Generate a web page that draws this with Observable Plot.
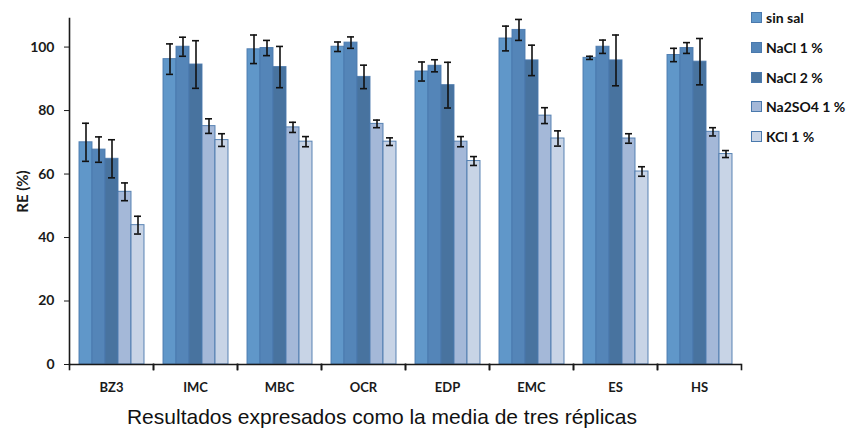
<!DOCTYPE html>
<html><head><meta charset="utf-8">
<script src="https://cdn.jsdelivr.net/npm/d3@7"></script>
<script src="https://cdn.jsdelivr.net/npm/@observablehq/plot@0.6"></script>
<style>
body{margin:0;background:#fff}
#wrap{position:relative;width:846px;height:434px;overflow:hidden}
#chart svg text{font-weight:bold}
#chart svg g[aria-label="y-axis label"] text{font-size:15px;font-weight:bold}
#legend{position:absolute;left:751px;top:3px;font-family:Lato,"Open Sans",sans-serif;font-weight:bold;font-size:14px;color:#111}
.item{display:flex;align-items:center;height:29.7px}
.sw{width:9px;height:9px;border:1px solid #4a79ad;margin-right:4px}
#caption{position:absolute;left:0;width:764px;top:405px;text-align:center;font-family:"Liberation Sans",Arial,sans-serif;font-size:21px;color:#111}
</style>
</head><body>
<div id="wrap"><div id="chart"></div><div id="legend"></div><div id="caption">Resultados expresados como la media de tres réplicas</div></div>
<script>
const categories = ["BZ3","IMC","MBC","OCR","EDP","EMC","ES","HS"];
const series = ["sin sal","NaCl 1 %","NaCl 2 %","Na2SO4 1 %","KCl 1 %"];
const colors = ["#6097c9","#5485b8","#48739f","#a4b8d8","#c8d4e6"];
const yTicks = [0,20,40,60,80,100];
const sinSal    = [70.0, 96.2, 99.3, 100.1, 92.3, 102.7, 96.6, 97.5];
const sinSalErr = [6.0, 4.8, 4.5, 1.5, 3.0, 3.9, 0.5, 2.1];
const nacl1     = [67.7, 100.1, 99.7, 101.4, 94.1, 105.4, 100.1, 99.7];
const nacl1Err  = [4.0, 3.0, 2.4, 1.8, 1.9, 3.3, 2.1, 1.7];
const nacl2     = [64.8, 94.5, 93.7, 90.6, 88.0, 95.8, 95.8, 95.4];
const nacl2Err  = [6.0, 7.5, 6.5, 3.7, 7.2, 4.8, 8.0, 7.3];
const na2so4    = [54.4, 75.1, 74.7, 75.8, 70.2, 78.4, 71.2, 73.3];
const na2so4Err = [2.8, 2.3, 1.6, 1.2, 1.6, 2.5, 1.5, 1.3];
const kcl       = [43.9, 70.7, 70.2, 70.2, 64.1, 71.2, 60.8, 66.3];
const kclErr    = [2.8, 2.0, 1.6, 1.2, 1.4, 2.4, 1.5, 1.1];

const values = [sinSal, nacl1, nacl2, na2so4, kcl];
const errors = [sinSalErr, nacl1Err, nacl2Err, na2so4Err, kclErr];
const rows = [];
categories.forEach((c, i) => series.forEach((s, j) => {
  const v = values[j][i], e = errors[j][i];
  rows.push({cat: c, series: s, value: v, lo: v - e, hi: v + e});
}));

const font = "Lato, 'Open Sans', sans-serif";
const plot = Plot.plot({
  width: 846, height: 400,
  marginLeft: 67, marginRight: 103, marginTop: 18, marginBottom: 36,
  style: {fontFamily: font, color: "#1a1a1a", background: "#fff"},
  fx: {domain: categories, paddingInner: 0, paddingOuter: 0, label: null},
  x: {domain: series, axis: null, paddingInner: 0, paddingOuter: 0.7},
  y: {domain: [0, 109]},
  color: {domain: series, range: colors},
  marks: [
    Plot.barY(rows, {fx: "cat", x: "series", y: "value", fill: "series", stroke: "#4a79ad", strokeWidth: 1, strokeOpacity: 0.9}),
    Plot.ruleX(rows, {fx: "cat", x: "series", y1: "lo", y2: "hi", stroke: "#111", strokeWidth: 1.6}),
    Plot.tickY(rows, {fx: "cat", x: "series", y: "hi", inset: 3, stroke: "#111", strokeWidth: 1.6}),
    Plot.tickY(rows, {fx: "cat", x: "series", y: "lo", inset: 3, stroke: "#111", strokeWidth: 1.6}),
    Plot.ruleY([0], {stroke: "#1a1a1a", strokeWidth: 1.6}),
    Plot.frame({anchor: "left", facetAnchor: "left", stroke: "#1a1a1a", strokeWidth: 1.6}),
    Plot.frame({anchor: "left", insetTop: 346, insetBottom: -5, stroke: "#1a1a1a", strokeWidth: 1.6}),
    Plot.frame({anchor: "right", insetTop: 346, insetBottom: -5, stroke: "#1a1a1a", strokeWidth: 1.6}),
    Plot.axisY(yTicks, {tickSize: 5, tickPadding: 10, fontWeight: "bold", fontSize: 14, label: "RE (%)", labelAnchor: "center", labelArrow: "none", labelOffset: 52}),
    Plot.axisFx({anchor: "bottom", tickSize: 0, tickPadding: 18, fontWeight: "bold", fontSize: 13, label: null})
  ]
});
document.getElementById("chart").appendChild(plot);

const leg = document.getElementById("legend");
series.forEach((s, j) => {
  const it = document.createElement("div"); it.className = "item";
  const sw = document.createElement("div"); sw.className = "sw"; sw.style.background = colors[j];
  const t = document.createElement("span"); t.textContent = s;
  it.appendChild(sw); it.appendChild(t); leg.appendChild(it);
});
</script>
</body></html>
